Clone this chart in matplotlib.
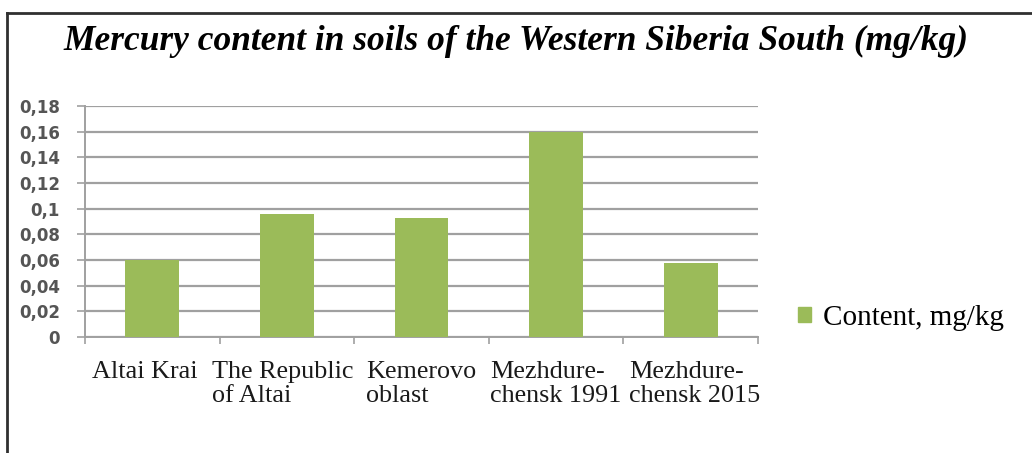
import matplotlib
matplotlib.use("Agg")
import matplotlib.pyplot as plt
from matplotlib.lines import Line2D
from matplotlib.patches import Patch
from matplotlib.ticker import FuncFormatter
import numpy as np

# values
regions = ["Altai Krai", "The Republic\nof Altai", "Kemerovo\noblast",
           "Mezhdure-\nchensk 1991", "Mezhdure-\nchensk 2015"]
content = [0.060, 0.096, 0.093, 0.160, 0.058]
yticks = [0, 0.02, 0.04, 0.06, 0.08, 0.10, 0.12, 0.14, 0.16, 0.18]
series_name = "Content, mg/kg"
title = "Mercury content in soils of the Western Siberia South (mg/kg)"

bar_color = "#9BBB59"
grid_color = "#a0a0a0"

fig = plt.figure(figsize=(10.32, 4.53), dpi=100)
ax = fig.add_axes([85 / 1032, 1 - 337 / 453, (758 - 85) / 1032, (337 - 106) / 453])

x = np.arange(len(regions))
ax.bar(x, content, width=0.4, color=bar_color, zorder=3)

ax.set_xlim(-0.5, len(regions) - 0.5)
ax.set_ylim(0, 0.18)
ax.set_yticks(yticks)
ax.yaxis.set_major_formatter(FuncFormatter(lambda v, p: ("%g" % round(v, 2)).replace(".", ",")))
ax.tick_params(axis="y", length=6, width=1.2, color=grid_color, labelsize=12,
               labelcolor="#555555", pad=12)
for lbl in ax.get_yticklabels():
    lbl.set_fontweight("bold")

ax.grid(axis="y", color=grid_color, linewidth=1.6, zorder=0)

# category boundary ticks, labels at centres
ax.set_xticks(np.arange(-0.5, len(regions), 1.0))
ax.set_xticklabels([])
ax.set_xticks(x, minor=True)
ax.set_xticklabels(regions, minor=True, family="Liberation Serif", fontsize=18.8,
                   linespacing=1.12, multialignment="left", color="#1a1a1a")
ax.tick_params(axis="x", which="major", length=5, width=1.2, color=grid_color)
ax.tick_params(axis="x", which="minor", length=0, pad=17)
# nudge the outer labels slightly apart, as in the source chart
shifts = [-8, -4, 0, 0, 4]
for lbl, dx in zip(ax.get_xticklabels(minor=True), shifts):
    lbl.set_x(lbl.get_position()[0])
    lbl.set_transform(lbl.get_transform() + matplotlib.transforms.ScaledTranslation(dx / 100, 0, fig.dpi_scale_trans))

for s in ["top", "right"]:
    ax.spines[s].set_visible(False)
for s in ["left", "bottom"]:
    ax.spines[s].set_color(grid_color)
    ax.spines[s].set_linewidth(1.4)

fig.text(0.5, 1 - 41 / 453, title, ha="center", va="center",
         family="Liberation Serif", fontsize=25.5, fontweight="bold", style="italic")

fig.legend(handles=[Patch(color=bar_color, label=series_name)], loc="center left",
           bbox_to_anchor=(798 / 1032, 1 - 318 / 453), frameon=False,
           prop={"family": "Liberation Serif", "size": 21},
           borderpad=0, borderaxespad=0,
           handlelength=0.45, handleheight=0.45, handletextpad=0.4)

# outer frame of the chart
fig.add_artist(Line2D([7 / 1032, 7 / 1032], [0, 1 - 13 / 453], transform=fig.transFigure,
                      color="#303030", linewidth=2))
fig.add_artist(Line2D([7 / 1032, 1], [1 - 13 / 453, 1 - 13 / 453], transform=fig.transFigure,
                      color="#303030", linewidth=2))

fig.savefig("out.png", dpi=100)
